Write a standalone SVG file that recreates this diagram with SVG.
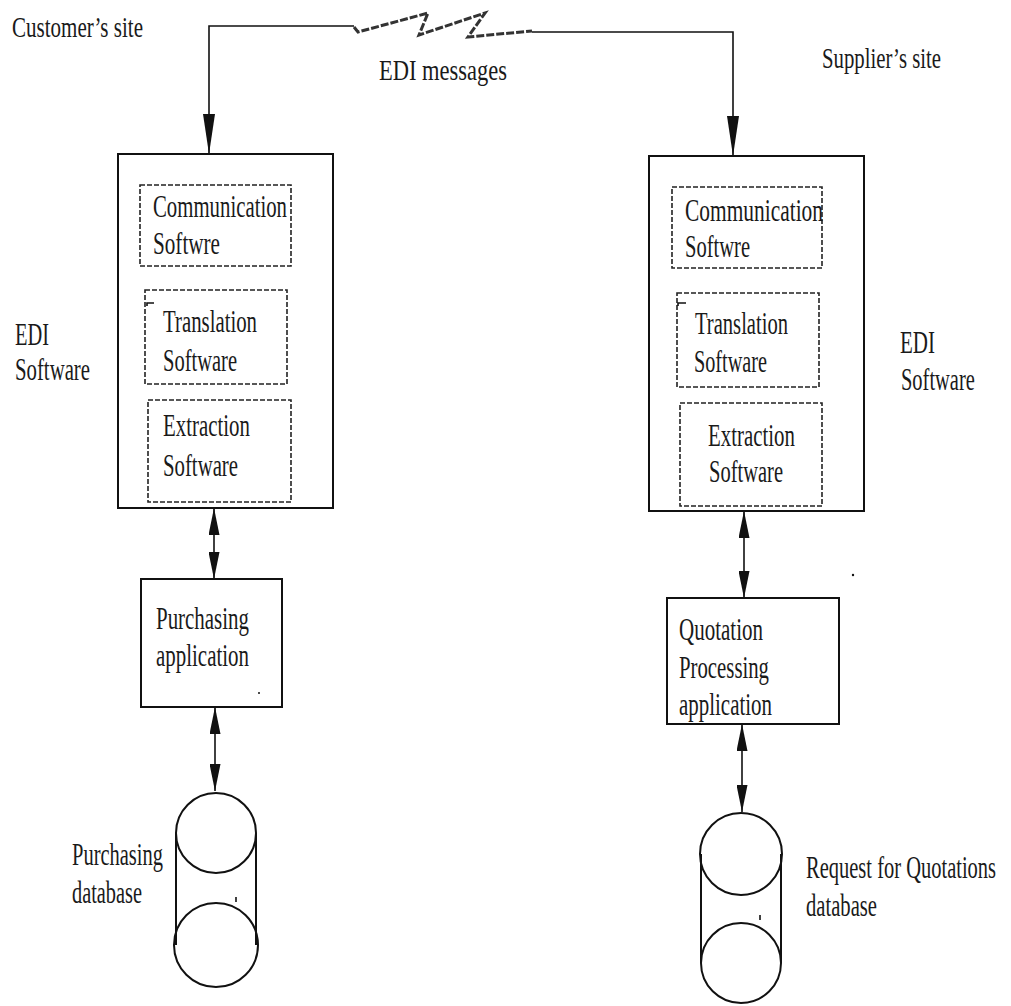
<svg xmlns="http://www.w3.org/2000/svg" width="1011" height="1006" viewBox="0 0 1011 1006">
<style>
.t{font-family:"Liberation Serif","Times New Roman",serif;font-size:32px;fill:#1a1a1a}
.s{font-size:29px}
.box{fill:#fff;stroke:#111;stroke-width:2}
.dbox{fill:none;stroke:#222;stroke-width:1.6;stroke-dasharray:5 2}
.ln{fill:none;stroke:#111;stroke-width:1.6}
.zz{fill:none;stroke:#333;stroke-width:3;stroke-dasharray:8 2}
.cyl{fill:none;stroke:#111;stroke-width:2}
.mk{fill:#111;stroke:none}
</style>
<defs>
<marker id="ah" markerUnits="userSpaceOnUse" markerWidth="40" markerHeight="12" refX="40" refY="6" orient="auto">
<path d="M0,0 L40,6 L0,12 z" fill="#111"/>
</marker>
<marker id="ab" markerUnits="userSpaceOnUse" markerWidth="27" markerHeight="11" refX="27" refY="5.5" orient="auto-start-reverse">
<path d="M0,0 L27,5.5 L0,11 z" fill="#111"/>
</marker>
</defs>
<rect width="1011" height="1006" fill="#fff"/>

<g id="labels">
<text class="t s" x="12" y="37" textLength="131" lengthAdjust="spacingAndGlyphs">Customer’s site</text>
<text class="t s" x="379" y="80" textLength="128" lengthAdjust="spacingAndGlyphs">EDI messages</text>
<text class="t s" transform="translate(822,68) scale(0.7 1)" x="0" y="0" textLength="170" lengthAdjust="spacingAndGlyphs">Supplier’s site</text>
</g>

<g id="connectors">
<polyline class="ln" points="354,26 209,26 209,154" marker-end="url(#ah)"/>
<polyline class="zz" points="354,27 358,32 428,13 419,35 485,13 468,37 532,31"/>
<polyline class="ln" points="532,32 733,32 733,156" marker-end="url(#ah)"/>
<line class="ln" x1="214" y1="508" x2="214" y2="579" marker-start="url(#ab)" marker-end="url(#ab)"/>
<line class="ln" x1="215" y1="707" x2="215" y2="791" marker-start="url(#ab)" marker-end="url(#ab)"/>
<line class="ln" x1="744" y1="511" x2="744" y2="598" marker-start="url(#ab)" marker-end="url(#ab)"/>
<line class="ln" x1="742" y1="724" x2="742" y2="812" marker-start="url(#ab)" marker-end="url(#ab)"/>
</g>

<g id="customer-edi">
<rect class="box" x="118" y="154" width="215" height="354"/>
<rect class="dbox" x="140" y="185" width="151" height="81"/>
<text class="t" x="153" y="217" textLength="134" lengthAdjust="spacingAndGlyphs">Communication</text>
<text class="t" x="153" y="254" textLength="67" lengthAdjust="spacingAndGlyphs">Softwre</text>
<rect class="dbox" x="145" y="290" width="142" height="94"/>
<path class="ln" d="M147,306 V303 H154"/>
<text class="t" x="163" y="332" textLength="94" lengthAdjust="spacingAndGlyphs">Translation</text>
<text class="t" x="163" y="371" textLength="74" lengthAdjust="spacingAndGlyphs">Software</text>
<rect class="dbox" x="148" y="400" width="143" height="102"/>
<text class="t" x="163" y="436" textLength="87" lengthAdjust="spacingAndGlyphs">Extraction</text>
<text class="t" x="163" y="476" textLength="75" lengthAdjust="spacingAndGlyphs">Software</text>
<text class="t" x="15" y="345" textLength="34" lengthAdjust="spacingAndGlyphs">EDI</text>
<text class="t" x="15" y="380" textLength="75" lengthAdjust="spacingAndGlyphs">Software</text>
</g>

<g id="supplier-edi">
<rect class="box" x="649" y="156" width="215" height="355"/>
<rect class="dbox" x="672" y="187" width="150" height="81"/>
<text class="t" x="685" y="221" textLength="138" lengthAdjust="spacingAndGlyphs">Communication</text>
<text class="t" x="685" y="257" textLength="65" lengthAdjust="spacingAndGlyphs">Softwre</text>
<rect class="dbox" x="677" y="293" width="142" height="94"/>
<path class="ln" d="M678,306 V303 H686"/>
<text class="t" x="695" y="334" textLength="93" lengthAdjust="spacingAndGlyphs">Translation</text>
<text class="t" x="694" y="372" textLength="73" lengthAdjust="spacingAndGlyphs">Software</text>
<rect class="dbox" x="680" y="403" width="142" height="103"/>
<text class="t" x="708" y="446" textLength="87" lengthAdjust="spacingAndGlyphs">Extraction</text>
<text class="t" x="709" y="482" textLength="74" lengthAdjust="spacingAndGlyphs">Software</text>
<text class="t" x="900" y="353" textLength="35" lengthAdjust="spacingAndGlyphs">EDI</text>
<text class="t" transform="translate(901,390) scale(0.69 1)" x="0" y="0" textLength="107" lengthAdjust="spacingAndGlyphs">Software</text>
</g>

<g id="purchasing-app">
<rect class="box" x="141" y="579" width="141" height="128"/>
<text class="t" x="156" y="629" textLength="93" lengthAdjust="spacingAndGlyphs">Purchasing</text>
<text class="t" x="156" y="666" textLength="93" lengthAdjust="spacingAndGlyphs">application</text>
<circle class="mk" cx="259" cy="693" r="1"/>
</g>

<g id="quotation-app">
<rect class="box" x="667" y="598" width="172" height="126"/>
<text class="t" x="679" y="640" textLength="84" lengthAdjust="spacingAndGlyphs">Quotation</text>
<text class="t" x="679" y="678" textLength="90" lengthAdjust="spacingAndGlyphs">Processing</text>
<text class="t" x="679" y="715" textLength="93" lengthAdjust="spacingAndGlyphs">application</text>
<circle class="mk" cx="853" cy="575" r="1.2"/>
</g>

<g id="purchasing-db">
<circle class="cyl" cx="216" cy="833" r="40"/>
<circle class="cyl" cx="216" cy="945" r="42"/>
<line class="cyl" x1="176" y1="833" x2="176" y2="945"/>
<line class="cyl" x1="256" y1="833" x2="256" y2="945"/>
<line class="ln" x1="236" y1="897" x2="236" y2="902" stroke-width="1"/>
<text class="t" x="72" y="865" textLength="91" lengthAdjust="spacingAndGlyphs">Purchasing</text>
<text class="t" x="72" y="903" textLength="70" lengthAdjust="spacingAndGlyphs">database</text>
</g>

<g id="rfq-db">
<circle class="cyl" cx="741" cy="854" r="41"/>
<circle class="cyl" cx="741" cy="963" r="40"/>
<line class="cyl" x1="701" y1="854" x2="701" y2="963"/>
<line class="cyl" x1="781" y1="854" x2="781" y2="963"/>
<line class="ln" x1="760" y1="915" x2="760" y2="920" stroke-width="1"/>
<text class="t" transform="translate(806,878) scale(0.66 1)" x="0" y="0" textLength="288" lengthAdjust="spacingAndGlyphs">Request for Quotations</text>
<text class="t" x="806" y="916" textLength="71" lengthAdjust="spacingAndGlyphs">database</text>
</g>
</svg>
